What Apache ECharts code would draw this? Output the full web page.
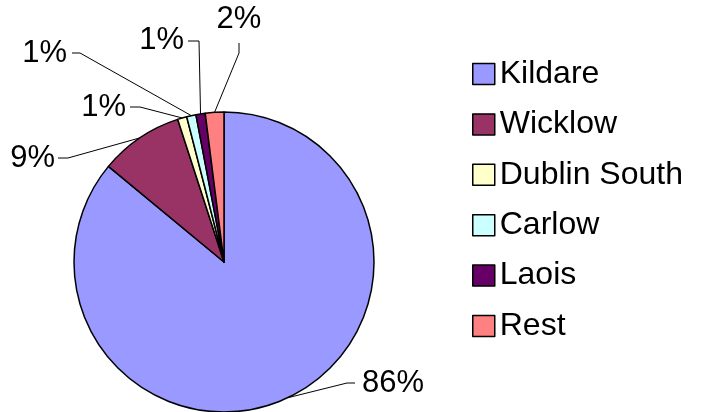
<!DOCTYPE html>
<html>
<head>
	<meta charset="utf-8">
	<title>ECharts</title>
	<script src="https://cdn.jsdelivr.net/npm/echarts@6/dist/echarts.min.js"></script>
</head>
<body style="margin:0">
	<div id="chart" style="width: 714px;height:412px;"></div>
	<script type="text/javascript">
		var regions = ['Kildare', 'Wicklow', 'Dublin South', 'Carlow', 'Laois', 'Rest'];
		var shares = [86, 9, 1, 1, 1, 2];
		var colors = ['#9999FF', '#993366', '#FFFFCC', '#CCFFFF', '#660066', '#FF8080'];

		// where each percentage label sits (anchor x, y, align), like the Excel original
		var labelSpots = [
			{ x: 362, y: 383, align: 'left', elbow: [347, 383], end: [355, 383] },
			{ x: 55, y: 158, align: 'right', elbow: [68, 158], end: [58, 158] },
			{ x: 126, y: 107, align: 'right', elbow: [140, 107], end: [130, 107] },
			{ x: 67, y: 53, align: 'right', elbow: [80, 53], end: [72, 53] },
			{ x: 184, y: 40, align: 'right', elbow: [199, 41], end: [188, 41] },
			{ x: 239, y: 19, align: 'center', elbow: [239, 53], end: [239, 43] }
		];

		var pieData = [];
		for (var i = 0; i < regions.length; i++) {
			pieData.push({ name: regions[i], value: shares[i], itemStyle: { color: colors[i] } });
		}

		var myChart = echarts.init(document.getElementById('chart'));
		var option = {
			animation: false,
			legend: {
				orient: 'vertical',
				left: 467,
				top: 53,
				itemWidth: 22,
				itemHeight: 21,
				itemGap: 18.4,
				icon: 'rect',
				itemStyle: { borderColor: '#000', borderWidth: 1.5 },
				textStyle: { fontFamily: 'Liberation Sans', fontSize: 32, color: '#000', padding: [0, 0, 0, 0] },
				data: regions
			},
			series: [{
				type: 'pie',
				center: [224, 262],
				radius: 150,
				startAngle: 90,
				clockwise: true,
				avoidLabelOverlap: false,
				itemStyle: { borderColor: '#000', borderWidth: 1.5 },
				label: {
					show: true,
					formatter: '{d}%',
					fontFamily: 'Liberation Sans',
					fontSize: 31,
					color: '#000',
					overflow: 'none'
				},
				labelLine: {
					show: true,
					length: 20,
					length2: 10,
					lineStyle: { color: '#000', width: 1 }
				},
				labelLayout: function (params) {
					var s = labelSpots[params.dataIndex];
					var edge = params.labelLinePoints ? params.labelLinePoints[0] : s.elbow;
					return {
						x: s.x,
						y: s.y,
						align: s.align,
						verticalAlign: 'middle',
						labelLinePoints: [edge, s.elbow, s.end]
					};
				},
				data: pieData
			}]
		};
		myChart.setOption(option);
	</script>
</body>
</html>
